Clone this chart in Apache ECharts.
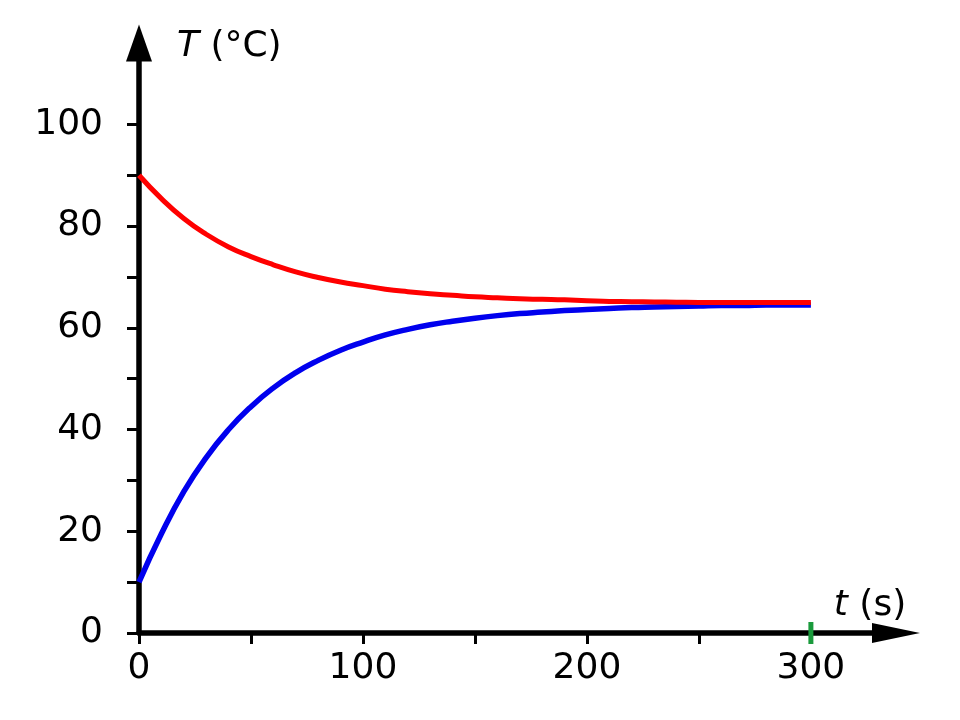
<!DOCTYPE html>
<html>
<head>
<meta charset="utf-8">
<script src="https://cdn.jsdelivr.net/npm/echarts@6/dist/echarts.min.js"></script>
<style>
  html, body { margin: 0; padding: 0; background: #fff; }
  #chart { width: 960px; height: 720px; }
</style>
</head>
<body>
<div id="chart"></div>
<script>
// time in seconds
var times = [0, 10, 20, 30, 40, 50, 60, 70, 80, 90, 100, 110, 120, 130, 140, 150,
  160, 170, 180, 190, 200, 210, 220, 230, 240, 250, 260, 270, 280, 290, 300];
// hot body cooling down (red)
var hotTemps = [90, 85.4, 81.5, 78.4, 75.9, 74.0, 72.4, 71.0, 69.9, 69.0, 68.3, 67.6, 67.1, 66.7, 66.4, 66.1,
  65.9, 65.7, 65.6, 65.5, 65.3, 65.2, 65.15, 65.1, 65.05, 65.0, 65.0, 65.0, 65.0, 65.0, 65.0];
// cold body warming up (blue)
var coldTemps = [10, 19.5, 27.8, 34.5, 40.0, 44.5, 48.2, 51.2, 53.6, 55.6, 57.2, 58.6, 59.7, 60.6, 61.3, 61.9,
  62.4, 62.8, 63.1, 63.4, 63.6, 63.8, 64.0, 64.1, 64.2, 64.3, 64.4, 64.4, 64.5, 64.5, 64.5];

var xTicks = [0, 50, 100, 150, 200, 250];
var xLabels = [0, 100, 200, 300];
var yTicks = [0, 10, 20, 30, 40, 50, 60, 70, 80, 90, 100];
var yLabels = [0, 20, 40, 60, 80, 100];
var markedTime = 300;

var font = 'DejaVu Sans';
var fontSize = 36;

function pairs(ys) {
  return times.map(function(t, i) { return [t, ys[i]]; });
}

var chart = echarts.init(document.getElementById('chart'));

chart.setOption({
  animation: false,
  backgroundColor: '#fff',
  grid: { left: 139, right: 64, top: 43, bottom: 87, containLabel: false, outerBoundsMode: 'none' },
  xAxis: {
    type: 'value', min: 0, max: 338,
    name: '{i|t} (s)',
    nameLocation: 'end',
    nameGap: -26,
    nameTextStyle: {
      fontFamily: font, fontSize: fontSize, color: '#000',
      align: 'center', verticalAlign: 'bottom', padding: [0, 0, 9, 0],
      rich: { i: { fontFamily: font, fontSize: fontSize, fontStyle: 'italic', color: '#000' } }
    },
    axisLine: {
      show: true, onZero: false,
      symbol: ['none', 'triangle'], symbolSize: [20, 48],
      lineStyle: { color: '#000', width: 5.5 }
    },
    axisTick: { show: true, customValues: xTicks, length: 11, lineStyle: { color: '#000', width: 3 } },
    axisLabel: { customValues: xLabels, margin: 18, fontFamily: font, fontSize: fontSize, color: '#000' },
    splitLine: { show: false }
  },
  yAxis: {
    type: 'value', min: 0, max: 116,
    name: '{i|T} (°C)',
    nameLocation: 'end',
    nameGap: -4,
    nameTextStyle: {
      fontFamily: font, fontSize: fontSize, color: '#000',
      align: 'left', verticalAlign: 'middle', padding: [0, 0, 0, 38],
      rich: { i: { fontFamily: font, fontSize: fontSize, fontStyle: 'italic', color: '#000' } }
    },
    axisLine: {
      show: true, onZero: false,
      symbol: ['none', 'triangle'], symbolSize: [26, 37],
      lineStyle: { color: '#000', width: 5.5 }
    },
    axisTick: { show: true, customValues: yTicks, length: 12, lineStyle: { color: '#000', width: 3 } },
    axisLabel: { customValues: yLabels, margin: 36, fontFamily: font, fontSize: fontSize, color: '#000' },
    splitLine: { show: false }
  },
  series: [
    {
      type: 'line', data: pairs(coldTemps), showSymbol: false,
      smooth: 0.5,
      lineStyle: { color: '#0000ee', width: 5.5 }
    },
    {
      type: 'line', data: pairs(hotTemps), showSymbol: false,
      smooth: 0.5,
      lineStyle: { color: '#ff0000', width: 5 }
    }
  ]
});

// green tick marking the end of the run
var px = chart.convertToPixel({ xAxisIndex: 0 }, markedTime);
var py = chart.convertToPixel({ yAxisIndex: 0 }, 0);
chart.setOption({
  graphic: [{
    type: 'line',
    shape: { x1: px, y1: py - 11, x2: px, y2: py + 11 },
    style: { stroke: '#1a9a3c', lineWidth: 5 },
    z: 10
  }]
});
</script>
</body>
</html>
